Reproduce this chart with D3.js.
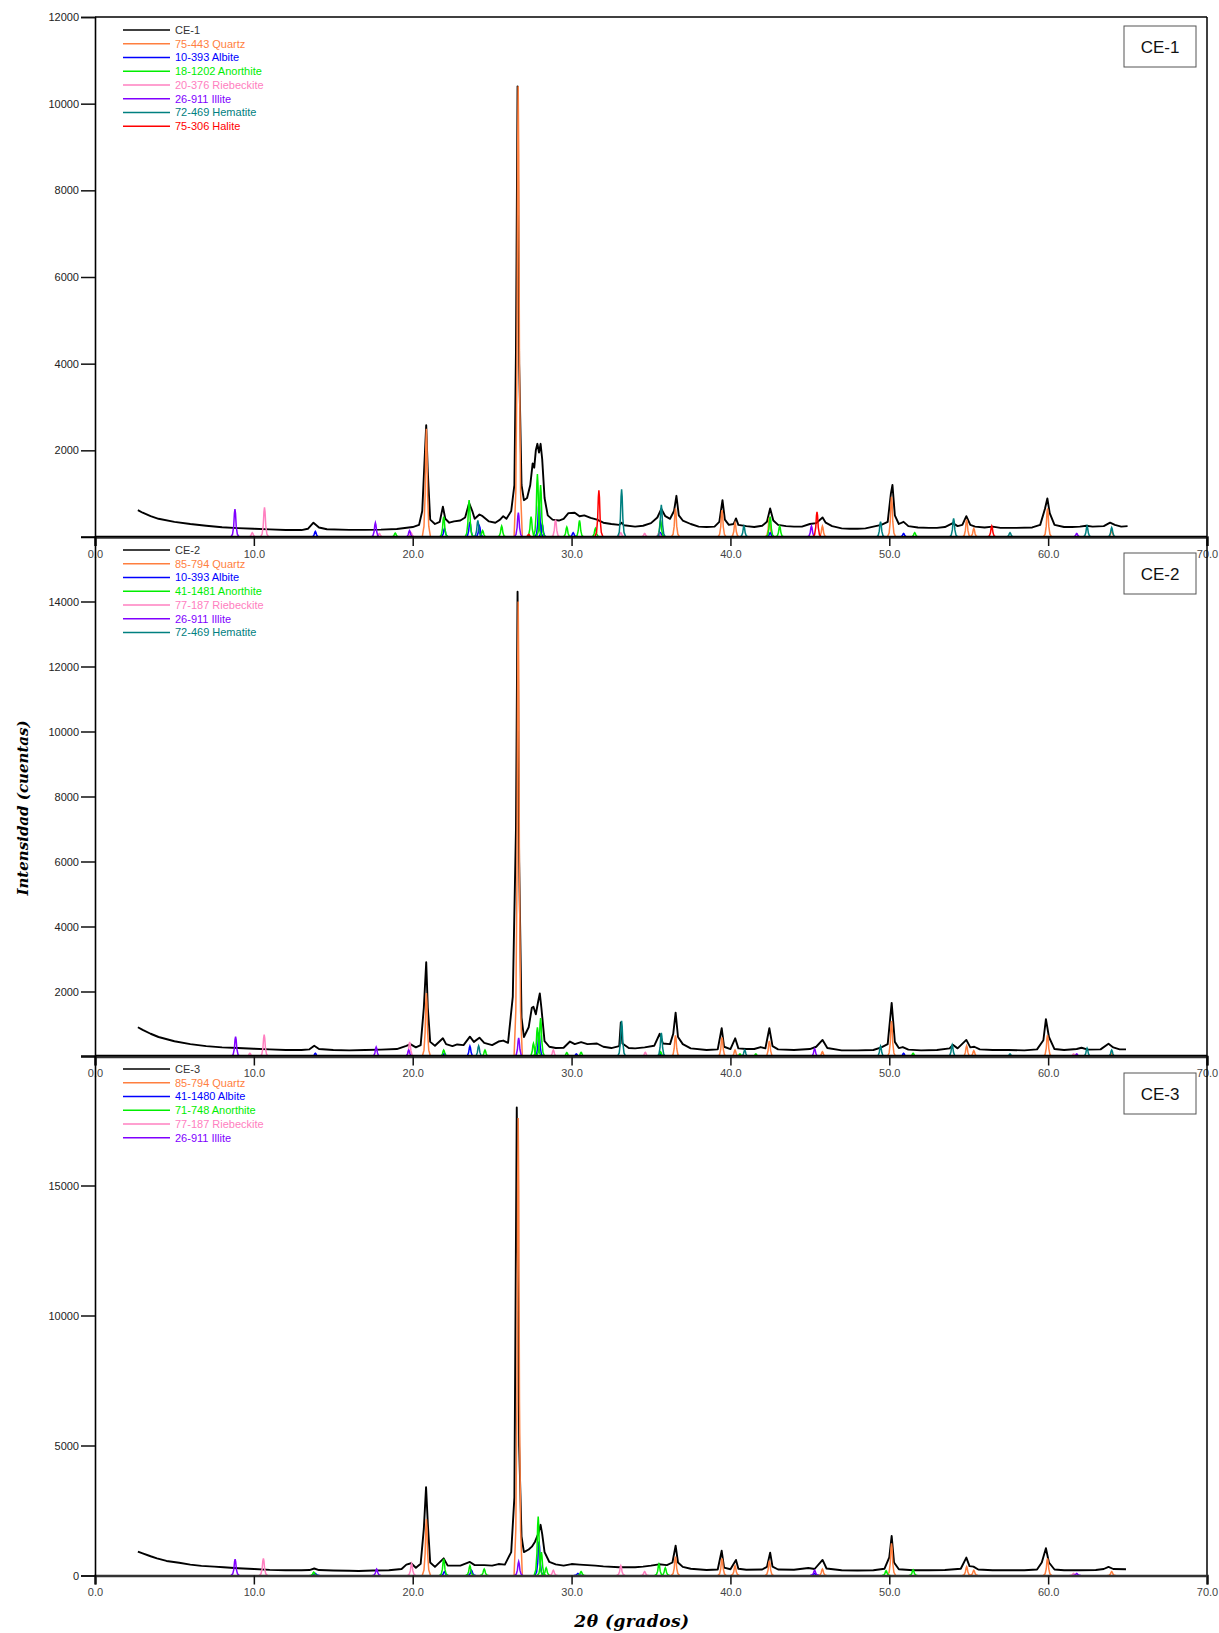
<!DOCTYPE html>
<html>
<head>
<meta charset="utf-8">
<script src="https://cdn.jsdelivr.net/npm/d3@7"></script>
<style>
  body { margin: 0; background: #fff; }
  svg { display: block; }
</style>
</head>
<body>
<svg id="chart" width="1219" height="1633"></svg>
<script>
// ---------- X-ray diffraction patterns, 2θ in degrees vs counts ----------

const xTicks = [0, 10, 20, 30, 40, 50, 60, 70];
const sampleNames = ["CE-1", "CE-2", "CE-3"];
const yMaxima = [12000, 16000, 20000];
const yTicksCE1 = [2000, 4000, 6000, 8000, 10000, 12000];
const yTicksCE2 = [2000, 4000, 6000, 8000, 10000, 12000, 14000];
const yTicksCE3 = [0, 5000, 10000, 15000];

// measured diffractograms [2θ, counts]
const traceCE1 = [
  [2.7,620],[3.0,560],[3.5,480],[4.0,420],[5.0,350],[6.0,300],[7.0,260],[8.0,225],[9.0,205],
  [10.0,190],[11.0,175],[12.0,160],[13.0,160],[13.4,190],[13.75,330],[14.1,220],[14.6,180],
  [16.0,165],[17.0,165],[18.0,170],[19.0,185],[20.0,230],[20.4,280],[20.6,600],[20.75,1800],
  [20.85,2580],[20.95,1500],[21.1,400],[21.4,300],[21.7,350],[21.9,700],[22.05,420],[22.3,330],
  [22.6,360],[23.0,380],[23.3,450],[23.55,780],[23.75,600],[23.9,420],[24.2,520],[24.4,480],
  [24.8,360],[25.2,330],[25.5,400],[25.7,480],[25.9,420],[26.2,600],[26.4,1200],[26.5,4300],
  [26.6,10400],[26.7,4000],[26.85,1200],[27.0,850],[27.2,900],[27.4,1200],[27.55,1700],
  [27.65,1600],[27.75,2000],[27.85,2150],[27.95,1950],[28.05,2150],[28.15,1800],[28.3,900],
  [28.5,500],[28.8,400],[29.2,380],[29.5,420],[29.8,550],[30.2,560],[30.5,480],[30.8,500],
  [31.2,440],[31.6,400],[32.0,330],[32.5,300],[33.0,280],[33.15,330],[33.3,270],[34.0,240],
  [34.5,260],[35.0,320],[35.4,450],[35.65,650],[35.9,480],[36.2,420],[36.45,600],[36.6,950],
  [36.75,500],[37.0,380],[37.5,300],[38.0,240],[38.5,230],[39.0,240],[39.3,350],[39.5,850],
  [39.65,400],[39.9,280],[40.2,300],[40.35,430],[40.5,280],[41.0,250],[41.5,230],[42.0,260],
  [42.3,350],[42.5,660],[42.7,380],[43.0,280],[43.5,250],[44.0,240],[44.5,240],[45.0,300],
  [45.4,320],[45.8,450],[46.0,330],[46.4,250],[47.0,200],[47.5,190],[48.0,190],[48.5,200],
  [49.0,240],[49.5,280],[49.9,350],[50.1,1000],[50.2,1200],[50.35,500],[50.6,300],[50.9,350],
  [51.2,250],[51.8,220],[52.5,210],[53.0,210],[53.5,230],[54.0,320],[54.3,250],[54.6,280],
  [54.85,480],[55.1,280],[55.4,240],[56.0,220],[56.5,240],[57.0,210],[58.0,210],[59.0,220],
  [59.5,280],[59.8,650],[59.95,890],[60.1,550],[60.4,280],[61.0,230],[61.5,230],[62.0,240],
  [62.4,260],[62.8,240],[63.5,250],[63.9,330],[64.2,280],[64.6,240],[65.0,250]
];
const traceCE2 = [
  [2.7,900],[3.0,820],[3.5,700],[4.0,600],[5.0,470],[6.0,380],[7.0,320],[8.0,280],[9.0,260],
  [10.0,240],[11.0,220],[12.0,200],[13.0,200],[13.5,220],[13.8,330],[14.1,230],[15.0,200],
  [16.0,190],[17.0,200],[18.0,210],[19.0,230],[19.6,330],[19.85,380],[20.2,280],[20.5,350],
  [20.7,1500],[20.85,2900],[20.95,1500],[21.1,450],[21.4,330],[21.9,560],[22.1,380],[22.5,320],
  [22.8,370],[23.2,350],[23.6,610],[23.85,450],[24.2,580],[24.5,420],[25.0,350],[25.4,460],
  [25.7,490],[26.0,420],[26.3,1840],[26.5,7000],[26.6,14300],[26.7,6000],[26.85,1200],
  [27.0,600],[27.3,900],[27.5,1500],[27.6,1530],[27.75,1300],[27.9,1700],[28.0,1940],
  [28.1,1500],[28.3,470],[28.6,300],[29.0,260],[29.5,270],[29.9,460],[30.2,380],[30.6,440],
  [31.0,380],[31.6,400],[32.0,300],[32.5,260],[33.0,320],[33.1,1050],[33.2,400],[33.6,260],
  [34.0,250],[34.6,280],[35.2,330],[35.55,700],[35.75,400],[36.2,380],[36.4,700],[36.55,1350],
  [36.7,600],[37.0,380],[37.5,250],[38.5,200],[39.2,220],[39.45,870],[39.6,300],[40.0,230],
  [40.3,560],[40.5,250],[41.0,230],[41.5,230],[41.9,290],[42.2,250],[42.45,870],[42.65,320],
  [43.0,220],[44.0,200],[45.0,230],[45.4,300],[45.8,510],[46.1,260],[47.0,190],[48.0,190],
  [49.0,200],[49.5,280],[49.9,380],[50.15,1650],[50.35,450],[50.6,260],[50.85,290],[51.2,210],
  [52.0,190],[53.0,200],[53.8,250],[54.0,360],[54.3,250],[54.85,510],[55.1,280],[55.35,300],
  [55.7,220],[56.5,200],[57.5,200],[58.5,190],[59.3,220],[59.7,500],[59.86,1150],[60.05,600],
  [60.4,230],[61.0,200],[61.8,230],[62.1,270],[62.5,210],[63.3,220],[63.8,390],[64.1,280],
  [64.5,220],[64.9,220]
];
const traceCE3 = [
  [2.7,920],[3.0,850],[3.5,740],[3.9,660],[4.5,560],[5.3,490],[6.0,420],[6.7,370],[7.5,340],
  [8.1,315],[9.0,280],[10.0,250],[11.0,215],[12.0,200],[13.0,200],[13.5,210],[13.8,270],
  [14.1,210],[15.0,190],[16.0,180],[16.6,175],[17.5,190],[18.5,200],[19.3,250],[19.6,420],
  [19.9,470],[20.2,300],[20.5,450],[20.7,1800],[20.84,3400],[20.95,2000],[21.1,500],[21.4,330],
  [21.95,660],[22.2,380],[23.0,380],[23.6,520],[23.9,400],[24.5,400],[25.0,380],[25.4,440],
  [25.8,420],[26.2,900],[26.4,3000],[26.55,18000],[26.7,5000],[26.85,1500],[27.0,900],
  [27.3,1000],[27.5,1110],[27.7,1300],[27.9,1600],[28.05,1950],[28.15,1600],[28.3,900],
  [28.6,520],[29.0,430],[29.5,380],[30.0,440],[30.5,420],[31.0,400],[31.5,380],[32.0,350],
  [33.0,320],[34.0,320],[34.5,340],[35.0,380],[35.5,430],[36.0,400],[36.35,500],[36.55,1150],
  [36.7,500],[37.0,330],[37.5,260],[38.5,210],[39.2,230],[39.45,950],[39.6,300],[40.0,240],
  [40.35,600],[40.5,260],[41.0,220],[42.0,230],[42.3,330],[42.5,880],[42.65,340],[43.0,230],
  [44.0,220],[44.9,290],[45.3,250],[45.8,600],[46.05,270],[47.0,200],[48.0,190],[49.0,200],
  [49.7,260],[50.0,700],[50.15,1520],[50.3,500],[50.6,240],[51.5,200],[52.5,200],[53.5,210],
  [54.5,260],[54.85,690],[55.05,360],[55.3,340],[55.6,230],[56.5,200],[57.5,200],[58.5,200],
  [59.3,230],[59.6,500],[59.86,1050],[60.05,500],[60.4,230],[61.0,200],[62.0,200],[63.0,210],
  [63.5,250],[63.8,330],[64.1,250],[64.9,240]
];

// reference phase peaks [2θ, counts]
const ce1Quartz = [[20.86,2500],[26.64,10400],[36.54,660],[39.47,620],[40.29,330],[42.45,450],[45.79,250],[50.14,930],[54.87,400],[55.32,200],[59.96,660],[64.0,150]];
const ce1Albite = [[13.87,130],[22.0,200],[23.6,350],[24.2,250],[27.95,800],[28.15,300],[30.1,100],[35.6,100],[42.5,100],[50.9,80]];
const ce1Anorthite = [[18.9,90],[21.95,470],[23.55,850],[24.4,150],[25.6,250],[27.45,470],[27.85,1450],[28.05,1200],[29.7,230],[30.5,380],[31.5,200],[35.6,390],[42.5,470],[43.1,250],[51.6,100]];
const ce1Riebeckite = [[9.9,100],[10.67,684],[17.9,80],[19.9,100],[28.99,400],[33.1,100],[34.6,80],[35.5,100]];
const ce1Illite = [[8.81,645],[17.65,330],[19.8,150],[26.65,560],[45.1,250],[61.8,80]];
const ce1Hematite = [[24.1,380],[33.15,1100],[35.65,740],[40.85,250],[49.45,354],[54.05,430],[57.6,100],[62.45,250],[64.0,220]];
const ce1Halite = [[27.3,60],[31.72,1080],[45.45,580],[56.45,250]];

const ce2Quartz = [[20.86,1950],[26.64,14000],[36.54,650],[39.47,590],[40.29,200],[42.45,480],[45.79,150],[50.14,1090],[54.87,330],[55.32,180],[59.96,660],[64.0,100]];
const ce2Albite = [[13.87,100],[22.0,100],[23.6,320],[27.95,740],[30.3,80],[35.6,80],[50.9,100]];
const ce2Anorthite = [[21.95,200],[24.55,200],[27.6,400],[27.85,900],[28.05,1180],[29.7,120],[30.6,130],[35.6,150],[40.6,80],[41.6,80],[51.5,100]];
const ce2Riebeckite = [[9.75,100],[10.65,670],[19.81,450],[28.85,200],[34.64,130],[61.6,80]];
const ce2Illite = [[8.85,610],[17.7,290],[19.75,200],[26.67,570],[45.3,240],[61.8,80]];
const ce2Hematite = [[24.15,330],[33.15,1100],[35.65,730],[40.9,200],[49.45,320],[53.96,360],[57.6,80],[62.45,260],[64.0,200]];

const ce3Quartz = [[20.86,2170],[26.64,17600],[36.54,725],[39.47,660],[40.29,380],[42.45,570],[45.79,250],[50.14,1240],[54.87,340],[55.32,200],[59.96,660],[64.0,150]];
const ce3Albite = [[13.87,80],[22.0,150],[23.7,200],[27.95,1300],[30.4,80],[45.3,80]];
const ce3Anorthite = [[13.77,130],[21.95,640],[23.6,380],[24.5,250],[27.9,2266],[28.1,900],[28.4,300],[30.6,150],[35.5,440],[35.9,300],[49.8,185],[51.5,220]];
const ce3Riebeckite = [[10.6,660],[19.93,460],[28.85,200],[33.1,380],[34.6,150],[61.6,80]];
const ce3Illite = [[8.82,624],[17.73,250],[26.67,540],[45.3,200],[61.8,80]];

const legendCE1 = ["75-443 Quartz", "10-393 Albite", "18-1202 Anorthite", "20-376 Riebeckite", "26-911 Illite", "72-469 Hematite", "75-306 Halite"];
const legendCE2 = ["85-794 Quartz", "10-393 Albite", "41-1481 Anorthite", "77-187 Riebeckite", "26-911 Illite", "72-469 Hematite"];
const legendCE3 = ["85-794 Quartz", "41-1480 Albite", "71-748 Anorthite", "77-187 Riebeckite", "26-911 Illite"];

// ---------- styling ----------
const COL = {
  Quartz: "#ff7f3f", Albite: "#0000ff", Anorthite: "#00ee00", Riebeckite: "#ff80c0",
  Illite: "#8000ff", Hematite: "#008080", Halite: "#ff0000"
};
const colorOf = label => COL[label.split(" ").pop()];

const panels = [
  { name: sampleNames[0], max: yMaxima[0], ticks: yTicksCE1, trace: traceCE1, legend: legendCE1,
    phases: [ce1Quartz, ce1Albite, ce1Anorthite, ce1Riebeckite, ce1Illite, ce1Hematite, ce1Halite],
    bottom: 537, legendTop: 30, boxTop: 26 },
  { name: sampleNames[1], max: yMaxima[1], ticks: yTicksCE2, trace: traceCE2, legend: legendCE2,
    phases: [ce2Quartz, ce2Albite, ce2Anorthite, ce2Riebeckite, ce2Illite, ce2Hematite],
    bottom: 1056.5, legendTop: 550, boxTop: 553 },
  { name: sampleNames[2], max: yMaxima[2], ticks: yTicksCE3, trace: traceCE3, legend: legendCE3,
    phases: [ce3Quartz, ce3Albite, ce3Anorthite, ce3Riebeckite, ce3Illite],
    bottom: 1575.5, legendTop: 1069, boxTop: 1073 }
];
const PANEL_H = 520;

const svg = d3.select("#chart");
const x = d3.scaleLinear().domain([0, 70]).range([95, 1207]);

// normalised peak profile: [offset in 2θ, fraction of height]
const profile = [[-0.26,0],[-0.15,0.1],[-0.08,0.38],[-0.035,0.85],[0,1],[0.035,0.85],[0.08,0.38],[0.15,0.1],[0.26,0]];

panels.forEach((p) => {
  const top = p.bottom - PANEL_H;
  const y = d3.scaleLinear().domain([0, p.max]).range([p.bottom, top]);
  const g = svg.append("g");

  // measured pattern
  g.append("path")
    .datum(p.trace)
    .attr("fill", "none")
    .attr("stroke", "#000")
    .attr("stroke-width", 1.9)
    .attr("stroke-linejoin", "round")
    .attr("d", d3.line().x(d => x(d[0])).y(d => y(d[1])));

  // reference phase peaks
  const peakLine = d3.line().x(d => x(d[0])).y(d => y(d[1]));
  p.phases.forEach((peaks, i) => {
    const color = colorOf(p.legend[i]);
    g.append("g").selectAll("path")
      .data(peaks)
      .join("path")
      .attr("fill", "none")
      .attr("stroke", color)
      .attr("stroke-width", 1.5)
      .attr("d", pk => peakLine(profile.map(o => [pk[0] + o[0], pk[1] * o[1]])));
  });

  // frame: top and right edges
  g.append("line").attr("x1", x(0)).attr("x2", x(70)).attr("y1", top).attr("y2", top)
    .attr("stroke", "#000").attr("stroke-width", 1.5);
  g.append("line").attr("x1", x(70)).attr("x2", x(70)).attr("y1", top).attr("y2", p.bottom)
    .attr("stroke", "#000").attr("stroke-width", 1.5);

  // bottom axis
  const xAxis = g.append("g")
    .attr("transform", `translate(0,${p.bottom})`)
    .call(d3.axisBottom(x).tickValues(xTicks).tickFormat(d3.format(".1f")).tickSize(9).tickPadding(4));
  xAxis.select(".domain").attr("stroke", "#333").attr("stroke-width", 2.6);
  xAxis.selectAll(".tick line").attr("stroke", "#111").attr("stroke-width", 1.5);
  xAxis.selectAll(".tick text").attr("fill", "#444")
    .style("font-family", "'Liberation Sans', Arial, sans-serif").style("font-size", "11px");

  // left axis
  const yAxis = g.append("g")
    .attr("transform", `translate(${x(0)},0)`)
    .call(d3.axisLeft(y).tickValues(p.ticks).tickFormat(d3.format("d")).tickSize(14).tickPadding(2));
  yAxis.select(".domain").attr("stroke", "#000").attr("stroke-width", 1.6);
  yAxis.selectAll(".tick line").attr("stroke", "#111").attr("stroke-width", 1.5);
  yAxis.selectAll(".tick text").attr("fill", "#222")
    .style("font-family", "'Liberation Sans', Arial, sans-serif").style("font-size", "11px");

  // legend
  const items = [{ label: p.name, color: "#000", text: "#333" }]
    .concat(p.legend.map(l => ({ label: l, color: colorOf(l), text: colorOf(l) })));
  const lg = g.append("g").attr("transform", `translate(0,${p.legendTop})`);
  const row = lg.selectAll("g").data(items).join("g")
    .attr("transform", (d, i) => `translate(0,${i * 13.75})`);
  row.append("line").attr("x1", 123).attr("x2", 170).attr("y1", 0).attr("y2", 0)
    .attr("stroke", d => d.color).attr("stroke-width", 1.5);
  row.append("text").attr("x", 175).attr("y", 0).attr("dy", "0.35em")
    .attr("fill", d => d.text)
    .style("font-family", "'Liberation Sans', Arial, sans-serif").style("font-size", "11px")
    .text(d => d.label);

  // sample name box
  const bx = g.append("g").attr("transform", `translate(1124,${p.boxTop})`);
  bx.append("rect").attr("width", 72).attr("height", 41).attr("fill", "#fff")
    .attr("stroke", "#555").attr("stroke-width", 1);
  bx.append("text").attr("x", 36).attr("y", 21).attr("dy", "0.36em").attr("text-anchor", "middle")
    .attr("fill", "#111")
    .style("font-family", "'Liberation Sans', Arial, sans-serif").style("font-size", "17px")
    .text(p.name);
});

// axis titles
svg.append("text")
  .attr("transform", "translate(28,808) rotate(-90)")
  .attr("text-anchor", "middle")
  .style("font-family", "'DejaVu Serif', serif").style("font-style", "italic").style("font-weight", "bold")
  .style("font-size", "15px")
  .text("Intensidad (cuentas)");
svg.append("text")
  .attr("x", 632).attr("y", 1627)
  .attr("text-anchor", "middle")
  .style("font-family", "'DejaVu Serif', serif").style("font-style", "italic").style("font-weight", "bold")
  .style("font-size", "17px")
  .style("letter-spacing", "0.5px")
  .text("2θ (grados)");
</script>
</body>
</html>
